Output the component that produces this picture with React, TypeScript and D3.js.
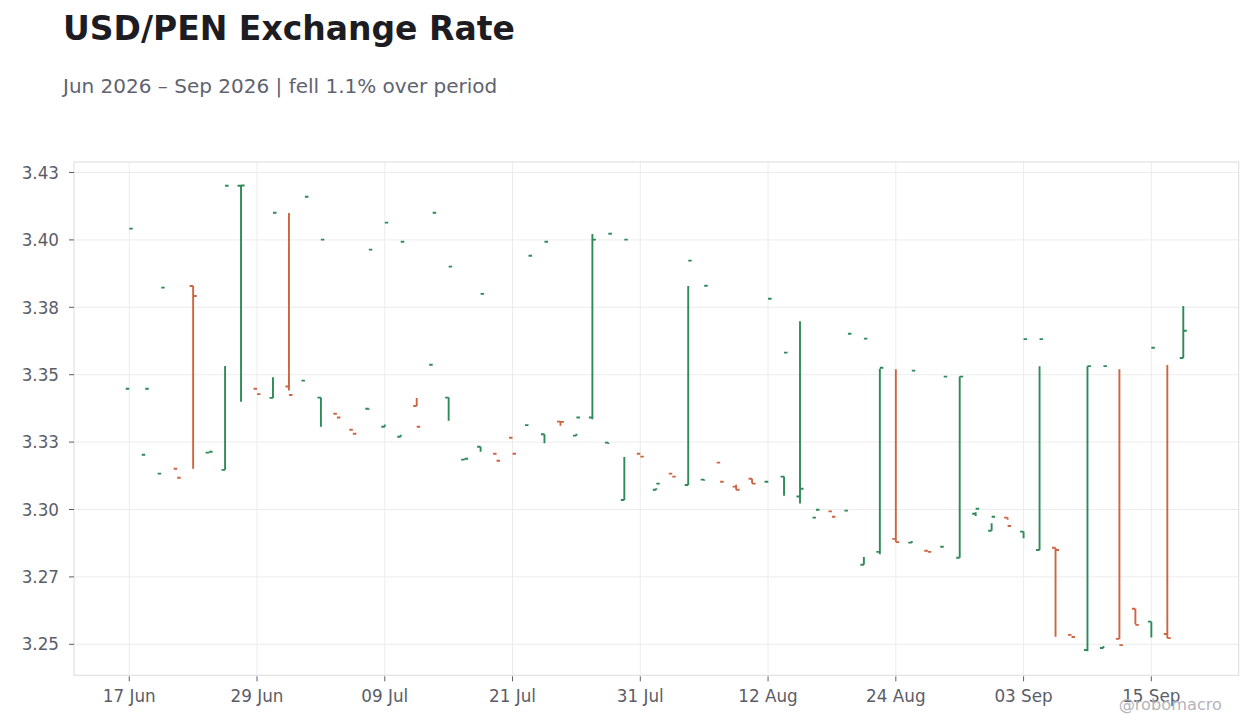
import { useEffect, useRef } from "react"
import * as d3 from "d3"

// first and last trading day shown
const firstDay = new Date(2026, 5, 17)
const lastDay = new Date(2026, 8, 17)

const opens = [
  3.3448, 3.3203, 3.3133, 3.3151, 3.3829, 3.3211, 3.3147, 3.4201, 3.3448, 3.3414,
  3.3456, 3.3478, 3.3415, 3.3355, 3.3296, 3.3374, 3.3307, 3.327, 3.3384, 3.3537,
  3.3415, 3.3185, 3.3233, 3.3207, 3.3266, 3.3313, 3.3279, 3.3326, 3.3274, 3.3341,
  3.3248, 3.3035, 3.3207, 3.3073, 3.3133, 3.3091, 3.3111, 3.3174, 3.3085, 3.3114,
  3.3103, 3.3122, 3.3048, 3.297, 3.2993, 3.2996, 3.2795, 3.2843, 3.2891, 3.2877,
  3.2847, 3.2862, 3.2821, 3.2984, 3.2921, 3.297, 3.2918, 3.285, 3.2858, 3.2535,
  3.2479, 3.2486, 3.252, 3.2632, 3.2584, 3.2538, 3.3562,
]
const highs = [
  3.3448, 3.3203, 3.3133, 3.3151, 3.3829, 3.3214, 3.3532, 3.4202, 3.3448, 3.3491,
  3.41, 3.3478, 3.3415, 3.3355, 3.3296, 3.3374, 3.3315, 3.3277, 3.3414, 3.3537,
  3.3415, 3.3188, 3.3233, 3.3207, 3.3266, 3.3313, 3.3279, 3.3326, 3.3281, 3.4022,
  3.3248, 3.3195, 3.3207, 3.3079, 3.3133, 3.3829, 3.3111, 3.3174, 3.3092, 3.3114,
  3.3103, 3.3122, 3.3698, 3.297, 3.2993, 3.2996, 3.2824, 3.3522, 3.352, 3.2883,
  3.2847, 3.2862, 3.3493, 3.299, 3.2949, 3.297, 3.2918, 3.3531, 3.2858, 3.2535,
  3.3531, 3.2494, 3.352, 3.2632, 3.2584, 3.3536, 3.3755,
]
const lows = [
  3.3448, 3.3203, 3.3133, 3.3151, 3.3151, 3.3211, 3.3147, 3.34, 3.3448, 3.3414,
  3.3441, 3.3478, 3.3307, 3.3355, 3.3296, 3.337, 3.3307, 3.327, 3.3384, 3.3537,
  3.3329, 3.3185, 3.3214, 3.3207, 3.3266, 3.3313, 3.3246, 3.3311, 3.3274, 3.3335,
  3.3243, 3.3035, 3.3207, 3.3073, 3.3133, 3.3091, 3.3107, 3.3174, 3.3073, 3.3096,
  3.3101, 3.3051, 3.3022, 3.297, 3.2993, 3.2996, 3.2795, 3.2834, 3.2879, 3.2877,
  3.2847, 3.2862, 3.2821, 3.2976, 3.2921, 3.2962, 3.2893, 3.285, 3.2528, 3.2535,
  3.2474, 3.2486, 3.252, 3.2574, 3.2525, 3.2523, 3.3562,
]
const closes = [
  3.4042, 3.3448, 3.3823, 3.3118, 3.3792, 3.3214, 3.4201, 3.4202, 3.3428, 3.4101,
  3.3425, 3.416, 3.4001, 3.3341, 3.3281, 3.3964, 3.4064, 3.3993, 3.3307, 3.4101,
  3.3901, 3.3188, 3.38, 3.3181, 3.3207, 3.3941, 3.3993, 3.3325, 3.3341, 3.4001,
  3.4023, 3.4001, 3.3196, 3.3096, 3.3122, 3.3923, 3.383, 3.3103, 3.3073, 3.3096,
  3.3782, 3.3582, 3.3077, 3.2999, 3.2973, 3.3652, 3.3634, 3.3526, 3.2879, 3.3515,
  3.2843, 3.3493, 3.3493, 3.3003, 3.2973, 3.2939, 3.3632, 3.3632, 3.285, 3.2527,
  3.3532, 3.3532, 3.2497, 3.2572, 3.36, 3.2523, 3.3663,
]

const xTickLabels = ["17 Jun", "29 Jun", "09 Jul", "21 Jul", "31 Jul", "12 Aug", "24 Aug", "03 Sep", "15 Sep"]
const yTickValues = [3.25, 3.275, 3.3, 3.325, 3.35, 3.375, 3.4, 3.425]
const yTickLabels = ["3.25", "3.27", "3.30", "3.33", "3.35", "3.38", "3.40", "3.43"]

const UP = "#2e8b57"
const DOWN = "#cf6443"
const FONT = "DejaVu Sans, Verdana, sans-serif"

export default function App() {
  const svgRef = useRef<SVGSVGElement>(null)

  useEffect(() => {
    if (!svgRef.current) return

    const width = 1260
    const height = 728
    const plot = { left: 74, right: 1238.7, top: 162, bottom: 675.3 }

    d3.select(svgRef.current).selectAll("*").remove()
    const svg = d3.select(svgRef.current).attr("width", width).attr("height", height)

    const days = d3
      .timeDay.range(firstDay, d3.timeDay.offset(lastDay, 1))
      .filter((d) => d.getDay() !== 0 && d.getDay() !== 6)
    const fmt = d3.timeFormat("%d %b")

    const x = d3.scaleLinear().domain([-3.46, days.length + 2.47]).range([plot.left, plot.right])
    const y = d3.scaleLinear().domain([3.2385, 3.4289]).range([plot.bottom, plot.top])

    const xTickIdx = xTickLabels.map((l) => days.findIndex((d) => fmt(d) === l))

    // title
    svg
      .append("text")
      .attr("x", 63)
      .attr("y", 39.5)
      .attr("font-family", FONT)
      .attr("font-weight", "bold")
      .attr("font-size", 33)
      .attr("fill", "#1c1c22")
      .text("USD/PEN Exchange Rate")
    svg
      .append("text")
      .attr("x", 63)
      .attr("y", 92.5)
      .attr("font-family", FONT)
      .attr("font-size", 20)
      .attr("fill", "#60636f")
      .text("Jun 2026 – Sep 2026 | fell 1.1% over period")

    // grid
    const grid = svg.append("g").attr("stroke", "#ececec").attr("stroke-width", 1)
    yTickValues.forEach((v) => {
      grid
        .append("line")
        .attr("x1", plot.left)
        .attr("x2", plot.right)
        .attr("y1", y(v))
        .attr("y2", y(v))
    })
    xTickIdx.forEach((i) => {
      grid
        .append("line")
        .attr("x1", x(i))
        .attr("x2", x(i))
        .attr("y1", plot.top)
        .attr("y2", plot.bottom)
    })

    svg
      .append("rect")
      .attr("x", plot.left)
      .attr("y", plot.top)
      .attr("width", plot.right - plot.left)
      .attr("height", plot.bottom - plot.top)
      .attr("fill", "none")
      .attr("stroke", "#dcdcdc")

    // y axis
    const yAxis = svg.append("g")
    yTickValues.forEach((v, k) => {
      yAxis
        .append("line")
        .attr("x1", 69)
        .attr("x2", 74)
        .attr("y1", y(v))
        .attr("y2", y(v))
        .attr("stroke", "#5a5d68")
      yAxis
        .append("text")
        .attr("x", 59)
        .attr("y", y(v) + 6.2)
        .attr("text-anchor", "end")
        .attr("font-family", FONT)
        .attr("font-size", 16.8)
        .attr("fill", "#5a5d68")
        .text(yTickLabels[k])
    })

    // x axis
    const xAxis = svg.append("g")
    xTickIdx.forEach((i, k) => {
      xAxis
        .append("line")
        .attr("x1", x(i))
        .attr("x2", x(i))
        .attr("y1", plot.bottom + 1)
        .attr("y2", plot.bottom + 6)
        .attr("stroke", "#5a5d68")
      xAxis
        .append("text")
        .attr("x", x(i))
        .attr("y", 702)
        .attr("text-anchor", "middle")
        .attr("font-family", FONT)
        .attr("font-size", 16.8)
        .attr("fill", "#5a5d68")
        .text(xTickLabels[k])
    })

    // ohlc bars
    const bars = days.map((d, i) => ({
      i,
      open: opens[i],
      high: highs[i],
      low: lows[i],
      close: closes[i],
    }))
    const tick = 3.5
    svg
      .append("g")
      .attr("fill", "none")
      .attr("stroke-width", 1.9)
      .selectAll("path")
      .data(bars)
      .join("path")
      .attr("stroke", (d) => (d.close >= d.open ? UP : DOWN))
      .attr("d", (d) => {
        const cx = x(d.i)
        return (
          `M${cx},${y(d.low)}V${y(d.high)}` +
          `M${cx - tick},${y(d.open)}H${cx}` +
          `M${cx},${y(d.close)}H${cx + tick}`
        )
      })

    // watermark
    svg
      .append("text")
      .attr("x", 1222)
      .attr("y", 710)
      .attr("text-anchor", "end")
      .attr("font-family", FONT)
      .attr("font-size", 16.2)
      .attr("fill", "#b4b4ba")
      .text("@robomacro")
  }, [])

  return <svg ref={svgRef} style={{ position: "absolute", left: 0, top: 0, background: "#fff" }} />
}
